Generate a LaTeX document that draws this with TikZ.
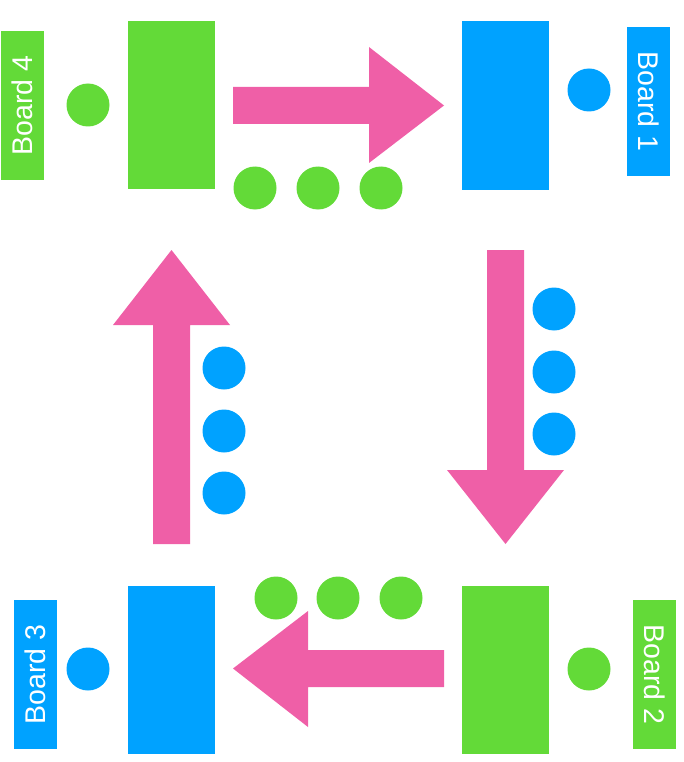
\documentclass[tikz,border=0pt]{standalone}
\usepackage{fontspec}
\setmainfont{Liberation Sans}
\definecolor{boardgreen}{HTML}{63DA38}
\definecolor{boardblue}{HTML}{00A2FF}
\definecolor{flowpink}{HTML}{EF5FA7}
\tikzset{
    board/.style={rectangle, inner sep=0pt, minimum width=87pt, minimum height=168pt},
    tag/.style={rectangle, inner sep=0pt, minimum width=149pt, minimum height=43pt,
        text=white, font=\fontsize{28.5}{30}\selectfont},
    pin/.style={circle, inner sep=0pt, minimum size=43pt},
}

\begin{document}
\begin{tikzpicture}[x=1pt,y=-1pt]
    \useasboundingbox (0,0) rectangle (683,762);
    \begin{scope}
    % boards
    \node [board, fill=boardgreen] (b4) at (171.5,105) {};
    \node [board, fill=boardblue]  (b1) at (505.5,105.5) {};
    \node [board, fill=boardblue]  (b3) at (171.5,669.5) {};
    \node [board, fill=boardgreen] (b2) at (505.5,669.5) {};
    % labels
    \node [tag, fill=boardgreen, rotate=90]  (t4) at (22.5,105.5) {Board 4};
    \node [tag, fill=boardblue, rotate=-90]  (t1) at (648.5,101.5) {Board 1};
    \node [tag, fill=boardblue, rotate=90]   (t3) at (35.5,674.5) {Board 3};
    \node [tag, fill=boardgreen, rotate=-90] (t2) at (654.5,674.5) {Board 2};
    % single pins
    \node [pin, fill=boardgreen] (p4) at (88,105) {};
    \node [pin, fill=boardblue]  (p1) at (589,90) {};
    \node [pin, fill=boardblue]  (p3) at (88,669) {};
    \node [pin, fill=boardgreen] (p2) at (589,669) {};

    % arrows
    \fill [flowpink] (233,87) -- (369,87) -- (369,47) -- (444,105.5)
        -- (369,163) -- (369,124) -- (233,124) -- cycle;
    \fill [flowpink] (487,250) -- (487,470) -- (447,470) -- (505.5,544)
        -- (564,470) -- (524,470) -- (524,250) -- cycle;
    \fill [flowpink] (444,650) -- (308,650) -- (308,611) -- (233,668.5)
        -- (308,727) -- (308,687) -- (444,687) -- cycle;
    \fill [flowpink] (153,544) -- (153,325) -- (113,325) -- (171.5,250)
        -- (230,325) -- (190,325) -- (190,544) -- cycle;

    % moving pins
    \foreach \n/\x in {1/255,2/318,3/381}
        \node [pin, fill=boardgreen] (ga\n) at (\x,188) {};
    \foreach \n/\y in {1/309,2/372,3/434}
        \node [pin, fill=boardblue] (ba\n) at (554,\y) {};
    \foreach \n/\x in {1/276,2/338,3/401}
        \node [pin, fill=boardgreen] (gb\n) at (\x,598) {};
    \foreach \n/\y in {1/368,2/431,3/493}
        \node [pin, fill=boardblue] (bb\n) at (224,\y) {};
    \end{scope}
\end{tikzpicture}
\end{document}
